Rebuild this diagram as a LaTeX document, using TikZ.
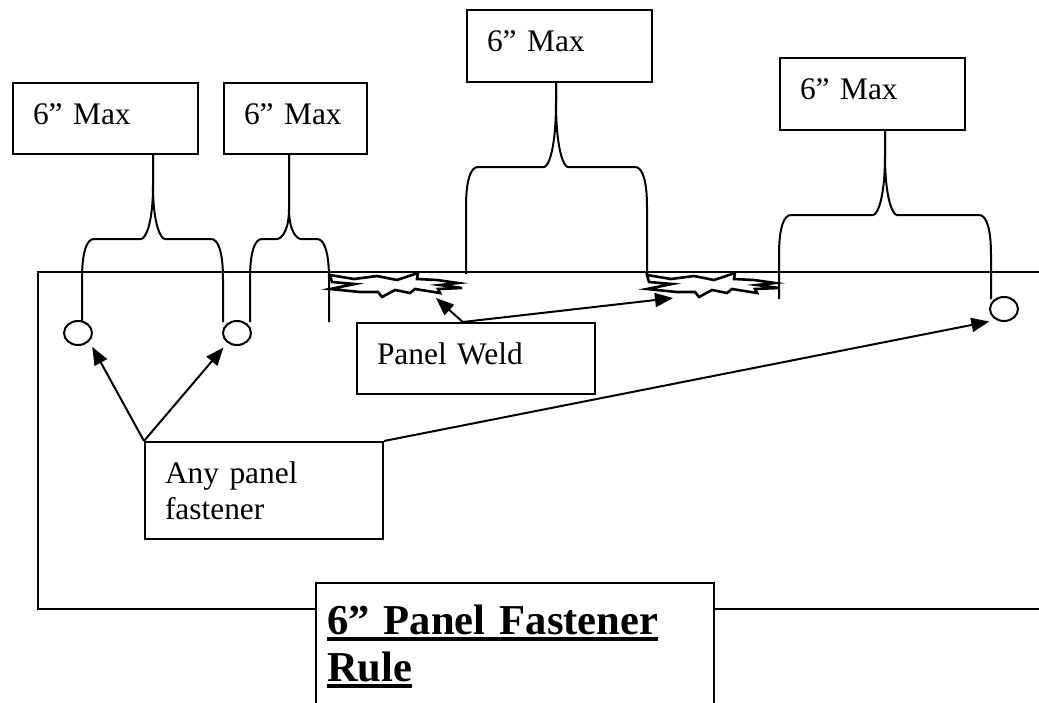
\documentclass[tikz,border=0pt]{standalone}
\usepackage{fontspec}
\setmainfont{Liberation Serif}
\usetikzlibrary{calc, arrows.meta, shapes.geometric}
\newsavebox{\ulbox}
\newcommand{\thickul}[1]{\leavevmode\sbox{\ulbox}{#1}\rlap{\rule[-3.5pt]{\wd\ulbox}{2pt}}\usebox{\ulbox}}
\tikzset{
    note/.style={draw, line width=1pt, anchor=north west, inner xsep=10pt, inner ysep=0pt, align=left, text height=20.5pt, font=\fontsize{15.7}{18}\selectfont},
    hole/.style={draw, line width=1pt, ellipse, inner sep=0pt, minimum width=14pt, minimum height=12pt},
    pointer/.style={line width=1pt, -{Triangle[length=9pt,width=7pt]}},
    weldmark/.pic={\draw[line width=1.3pt] (0,3) -- (24,7) -- (47,4) -- (67,8) -- (88,1) -- (87,7) -- (107,8) -- (128,11) -- (110,13) -- (132,16) -- (108,17) -- (110,21) -- (85,17) -- (80,21) -- (65,18) -- (52,25) -- (48,20) -- (30,20) -- (0,17) -- (25,12) -- (2,10) -- cycle;}
}
\newcommand{\maxbrace}[5]{%
    \draw[line width=1pt] (#1) -- ++(0,#2) .. controls +(0,{0.75*(84-#2)}) and +(4,0) .. ++(-12,{84-#2}) -- ++({24-#3},0) .. controls +(-7,0) and +(0,-28) .. ++(-12,40) -- ++(0,{#5-40});
    \draw[line width=1pt] (#1) -- ++(0,#2) .. controls +(0,{0.75*(84-#2)}) and +(-4,0) .. ++(12,{84-#2}) -- ++({#4-24},0) .. controls +(7,0) and +(0,-28) .. ++(12,40) -- ++(0,{#5-40});
}

\begin{document}
\begin{tikzpicture}[x=0.5pt,y=-0.5pt]
            \clip (0,0) rectangle (1039,702);
            \draw[line width=1pt] (1039,272) -- (38,272) -- (38,609) -- (1039,609);
            \node[note, text width=72.5pt, text depth=15pt] (max1) at (12,82) {6” Max};
            \node[note, text width=51.5pt, text depth=15pt] (max2) at (223,82) {6” Max};
            \node[note, text width=72.5pt, text depth=15.5pt] (max3) at (466,9) {6” Max};
            \node[note, text width=72.5pt, text depth=15.5pt] (max4) at (779,57) {6” Max};
            \maxbrace{153,0 |- max1.south}{30}{71}{70}{83}
            \maxbrace{289,0 |- max2.south}{54}{39}{40}{83}
            \maxbrace{556,0 |- max3.south}{19}{90}{91}{107}
            \maxbrace{885,0 |- max4.south}{24}{106}{106}{84}
            \node[hole] (fast1) at (78,333) {};
            \node[hole] (fast2) at (237,333) {};
            \node[hole] (fast3) at (1004,309) {};
            \pic at (330,272) {weldmark};
            \pic at (647,272) {weldmark};
            \coordinate (w1) at (436,298);
            \coordinate (w2) at (673,298);
            \node[note, text width=99pt, text depth=15pt] (weldnote) at (356,322) {Panel Weld};
            \node[note, text width=99pt, text depth=28pt] (fastnote) at (144,441) {Any panel\\fastener};
            \draw[pointer] (weldnote.110) -- (w1);
            \draw[pointer] (weldnote.110) -- (w2);
            \draw[pointer, shorten >=3pt] (fastnote.north west) -- (fast1.-37);
            \draw[pointer, shorten >=3pt] (fastnote.north west) -- (fast2.-134);
            \draw[pointer, shorten >=3.5pt] (fastnote.north east) -- (fast3.-125);
            \node[draw, line width=1pt, fill=white, anchor=north west, inner xsep=5.5pt, inner ysep=0pt, text width=188pt, align=left, text height=25.5pt, text depth=70pt, font=\bfseries\fontsize{21.3}{23.5}\selectfont] (title) at (315,582) {\thickul{6” Panel Fastener}\\\thickul{Rule}};
        \end{tikzpicture}
\end{document}
